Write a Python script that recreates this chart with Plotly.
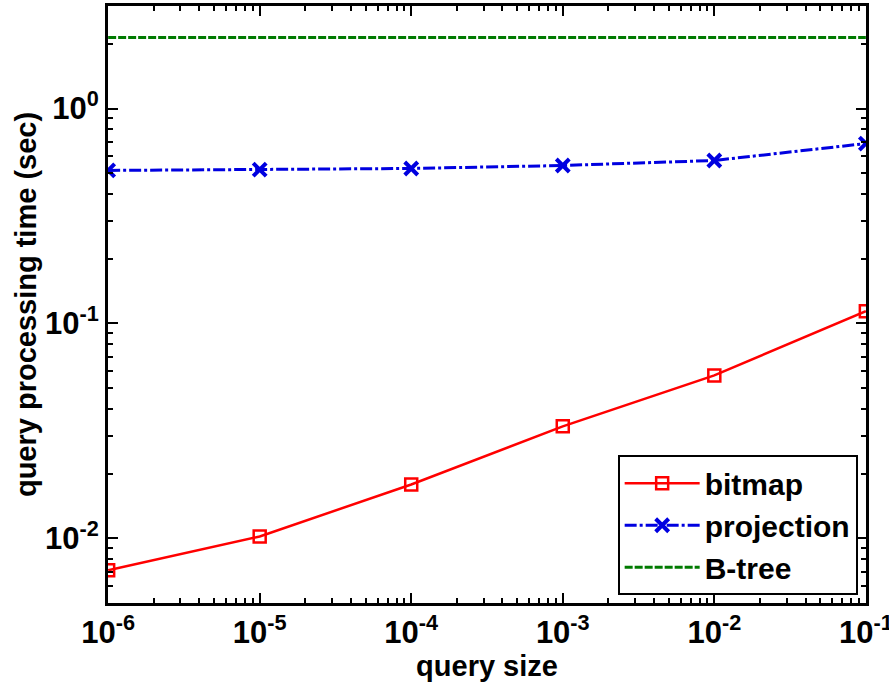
import plotly.graph_objects as go

query_size = [1e-6, 1e-5, 1e-4, 1e-3, 1e-2, 1e-1]
bitmap = [0.0071, 0.0102, 0.0178, 0.0332, 0.0573, 0.114]
projection = [0.515, 0.52, 0.526, 0.543, 0.573, 0.687]
btree = [2.14, 2.14, 2.14, 2.14, 2.14, 2.14]

x_tickvals = [1e-6, 1e-5, 1e-4, 1e-3, 1e-2, 1e-1]
x_ticktext = ["10<sup>-6</sup>", "10<sup>-5</sup>", "10<sup>-4</sup>",
              "10<sup>-3</sup>", "10<sup>-2</sup>", "10<sup>-1</sup>"]
y_tickvals = [1e-2, 1e-1, 1e0]
y_ticktext = ["10<sup>-2</sup>", "10<sup>-1</sup>", "10<sup>0</sup>"]

x_minor = [m * 10 ** e for e in range(-6, -1) for m in range(2, 10)]
y_minor = [m * 10 ** e for e in range(-3, 1) for m in range(2, 10)]
y_minor = [v for v in y_minor if 0.005 <= v <= 3]

FONT = "Liberation Sans, Arial, Helvetica, sans-serif"

fig = go.Figure()
fig.add_trace(go.Scatter(
    x=query_size, y=bitmap, name="bitmap", mode="lines+markers",
    line=dict(color="#ff0000", width=2.5, dash="solid"),
    marker=dict(symbol="square-open", size=12, color="#ff0000",
                line=dict(width=2.5, color="#ff0000"))))
fig.add_trace(go.Scatter(
    x=query_size, y=projection, name="projection", mode="lines+markers",
    line=dict(color="#0000e0", width=3, dash="12px,3px,3px,3px"),
    marker=dict(symbol="x-thin-open", size=13, color="#0000e0",
                line=dict(width=4, color="#0000e0"))))
fig.add_trace(go.Scatter(
    x=query_size, y=btree, name="B-tree", mode="lines",
    line=dict(color="#007a00", width=3, dash="8px,2px")))

axis_common = dict(
    type="log", showgrid=False, zeroline=False, automargin=False,
    showline=True, linecolor="black", linewidth=3, mirror="allticks",
    ticks="inside", ticklen=10, tickwidth=2, tickcolor="black",
    ticklabeloverflow="allow",
    tickfont=dict(family=FONT, size=31, color="black", weight="bold"),
)

fig.update_xaxes(
    **axis_common,
    range=[-6.001, -0.999],
    tickmode="array", tickvals=x_tickvals, ticktext=x_ticktext,
    minor=dict(tickmode="array", tickvals=x_minor, ticks="inside",
               ticklen=5, tickwidth=2, tickcolor="black"),
    title=dict(text="query size", standoff=0,
               font=dict(family=FONT, size=29, color="black", weight="bold")),
)
fig.update_yaxes(
    **axis_common,
    range=[-2.30103, 0.477],
    tickmode="array", tickvals=y_tickvals, ticktext=y_ticktext,
    minor=dict(tickmode="array", tickvals=y_minor, ticks="inside",
               ticklen=5, tickwidth=2, tickcolor="black"),
    title=dict(text="query processing time (sec)", standoff=0,
               font=dict(family=FONT, size=29, color="black", weight="bold")),
)

fig.update_layout(
    width=889, height=686,
    margin=dict(l=108, r=23, t=6, b=83),
    plot_bgcolor="white", paper_bgcolor="white",
    legend=dict(
        x=0.989, y=0.013, xanchor="right", yanchor="bottom",
        bgcolor="white", bordercolor="black", borderwidth=2,
        font=dict(family=FONT, size=30, color="black", weight="bold"),
        itemwidth=75, tracegroupgap=0,
    ),
    showlegend=True,
)

fig.write_html("out.html",
               config={"displayModeBar": False},
               post_script="document.body.style.margin='0px';document.body.style.overflow='hidden';")
